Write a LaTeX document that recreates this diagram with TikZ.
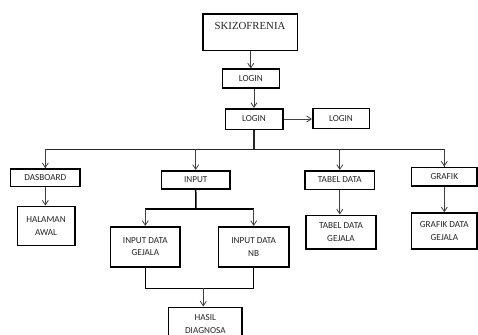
\documentclass[tikz,border=0pt]{standalone}
\usepackage{fontspec}
\setmainfont{Carlito}
\newfontfamily\timesfont{Liberation Serif}
\usetikzlibrary{arrows.meta}
\begin{document}
\begin{tikzpicture}[x=1pt,y=-1pt,
  box/.style={draw=black,line width=1.6pt,fill=white,inner sep=1pt,align=center,
    font=\fontsize{9.2}{12.7}\selectfont,text=black!85},
  arr/.style={draw=black!75,line width=0.8pt,-{Straight Barb[length=4.5pt,width=6pt]}},
  bus/.style={draw=black!85,line width=1.1pt},
  thk/.style={draw=black,line width=1.5pt}]
\clip (0,0) rectangle (478,334);
\fill[white] (0,0) rectangle (478,334);
% boxes
\node[box,minimum width=94.6,minimum height=36.7,
  label={[name=skt,anchor=north,yshift=-5.5pt,font=\timesfont\fontsize{10.8}{12}\selectfont,text=black!85]north:SKIZOFRENIA}] (sk) at (250,32.3) {};
\node[box,minimum width=57,minimum height=19] (login1) at (250.8,78.8) {LOGIN};
\node[box,minimum width=57.4,minimum height=20.6] (login2) at (254,119) {LOGIN};
\node[box,minimum width=56.6,minimum height=20] (login3) at (341,118.3) {LOGIN};
\node[box,minimum width=69.3,minimum height=17.7] (dash) at (45.3,177.8) {DASBOARD};
\node[box,minimum width=57.4,minimum height=39.3] (halaman) at (46,226) {HALAMAN\\AWAL};
\node[box,minimum width=68.7,minimum height=18] (input) at (195.7,179.7) {INPUT};
\node[box,minimum width=69.7,minimum height=18.6] (tabel) at (339.8,180) {TABEL DATA};
\node[box,minimum width=70,minimum height=33.4] (tabelg) at (341,232) {TABEL DATA\\GEJALA};
\node[box,minimum width=65.3,minimum height=18.4] (grafik) at (444.3,176.5) {GRAFIK};
\node[box,minimum width=65.3,minimum height=36] (grafikg) at (444.3,231) {GRAFIK DATA\\GEJALA};
\node[box,minimum width=69.3,minimum height=40] (igej) at (145.3,246.7) {INPUT DATA\\GEJALA};
\node[box,minimum width=70.7,minimum height=40] (inb) at (253.7,246.7) {INPUT DATA\\NB};
\node[box,minimum width=73.5,minimum height=34] (hasil) at (205.3,324.3) {HASIL\\DIAGNOSA};
% coordinates
\coordinate (bus) at (254,149.3);
\coordinate (split) at (196,209);
\coordinate (merge) at (203.3,288.3);
% connectors
\draw[arr] (sk.south -| login1) -- (login1.north);
\draw[arr] (login1.south -| login2) -- (login2.north);
\draw[arr] (login2.east) -- (login2.east -| login3.west);
\draw[bus] (login2.south) -- (bus);
\draw[bus] (bus) -| (dash.north);
\draw[bus] (bus) -| (grafik.north);
\draw[arr] (bus -| dash) -- (dash.north);
\draw[arr] (bus -| input) -- (input.north);
\draw[arr] (bus -| tabel) -- (tabel.north);
\draw[arr] (bus -| grafik) -- (grafik.north);
\draw[arr] (dash.south) -- (dash.south |- halaman.north);
\draw[arr] (tabel.south) -- (tabel.south |- tabelg.north);
\draw[arr] (grafik.south) -- (grafik.south |- grafikg.north);
\draw[thk] (input.south) -- (split);
\draw[thk] (split -| igej.north) -- (split -| inb.north);
\draw[arr] (split -| igej.north) -- (igej.north);
\draw[arr] (split -| inb.north) -- (inb.north);
\draw[thk] (igej.south) |- (merge) -| (inb.south);
\draw[arr] (merge) -- (merge |- hasil.north);
\end{tikzpicture}
\end{document}
